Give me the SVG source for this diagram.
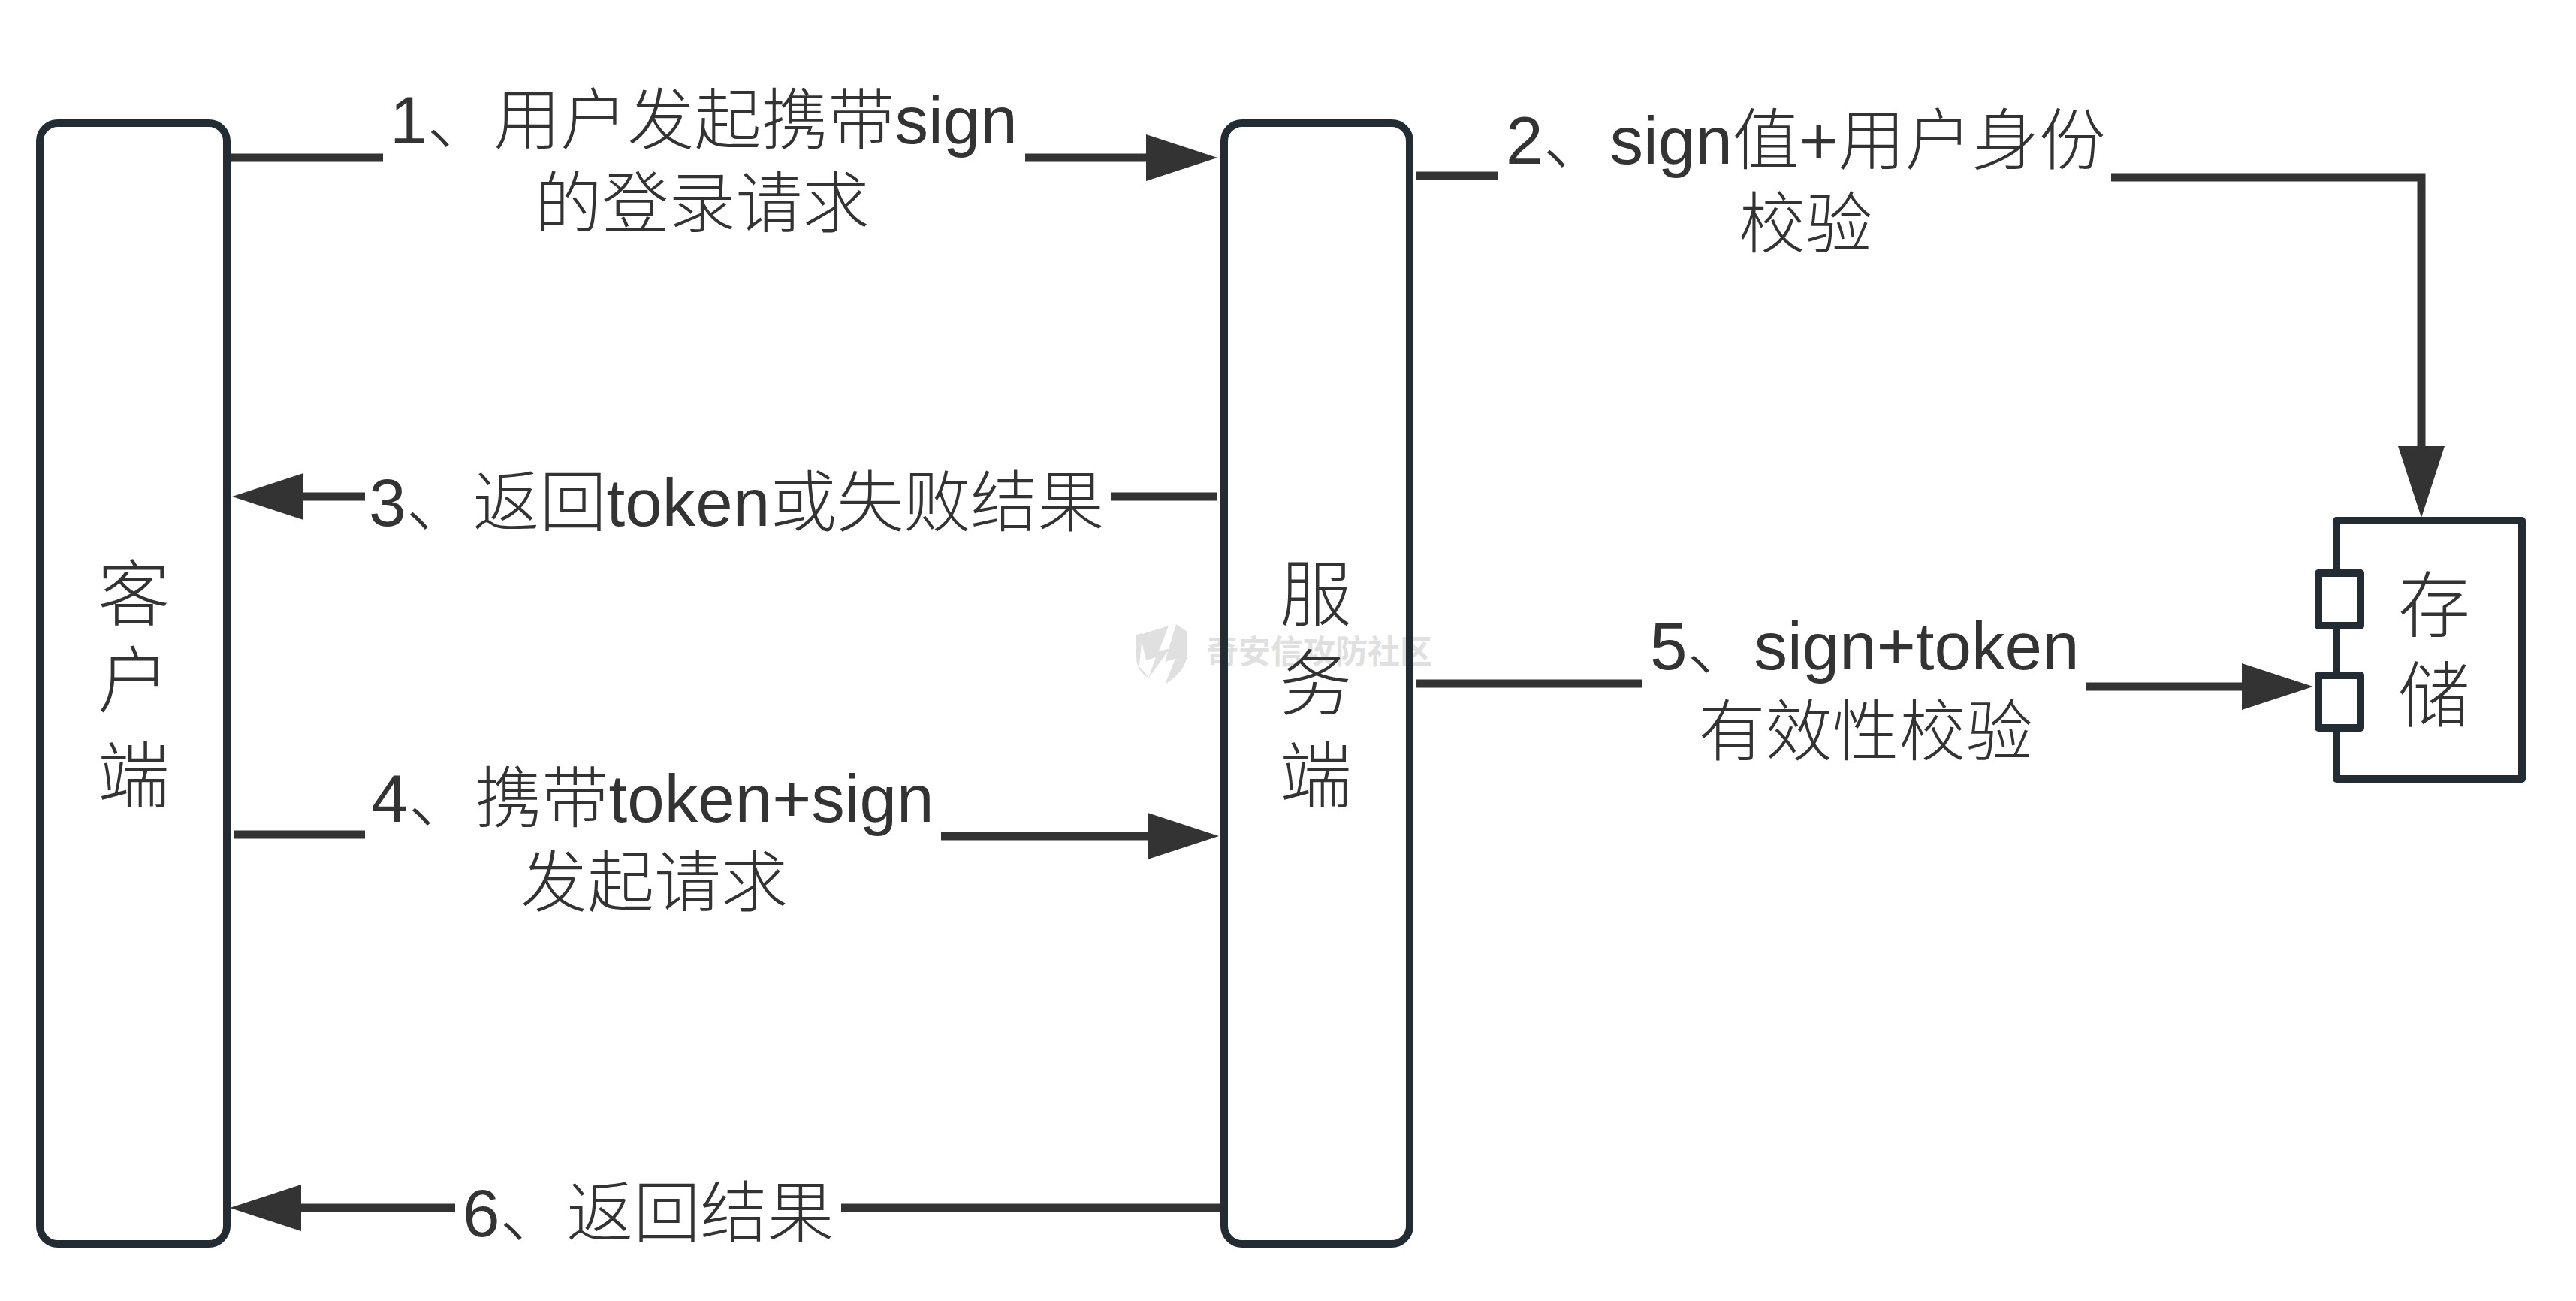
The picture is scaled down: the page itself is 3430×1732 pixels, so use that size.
<svg xmlns="http://www.w3.org/2000/svg" width="3430" height="1732" viewBox="0 0 3430 1732">
<style>
text{font-family:"Liberation Sans","Noto Sans CJK SC",sans-serif;font-size:89px;fill:#333;font-weight:300}
.m{text-anchor:middle}
.n{font-size:96px}
.box{fill:none;stroke:#232b33;stroke-width:10;stroke-linejoin:round}
.port{fill:#fff;stroke:#232b33;stroke-width:10;stroke-linejoin:round}
.c{fill:none;stroke:#333;stroke-width:11}
.wm{font-size:43px;fill:#e0e0e0;font-weight:700}
</style>
<defs>
<marker id="a" markerUnits="userSpaceOnUse" markerWidth="96" markerHeight="64" refX="65" refY="32" orient="auto"><path d="M0 1 L95 32 L0 63Z" fill="#333"/></marker>
</defs>
<rect width="3430" height="1732" fill="#fff"/>
<g id="watermark" transform="translate(-9,-5)">
<path d="M1527 850 L1565 838 L1552 872 L1567 868 L1538 908 L1548 880 L1535 884 Z M1575 836 L1590 846 L1590 878 Q1586 900 1560 916 L1574 882 L1560 886 Z M1522 850 L1530 848 L1526 892 L1540 908 Q1522 900 1522 878 Z" fill="#e0e0e0"/>
<text class="wm" x="1615" y="888">奇安信攻防社区</text>
</g>
<g id="connectors">
<path class="c" d="M308 210H510M1365 210H1591" marker-end="url(#a)"/>
<path class="c" d="M1886 234H1995M2811 236H3224V659" marker-end="url(#a)"/>
<path class="c" d="M1621 661H1479M486 661H339" marker-end="url(#a)"/>
<path class="c" d="M311 1111H486M1253 1113H1593" marker-end="url(#a)"/>
<path class="c" d="M1886 910H2187M2778 914H3050" marker-end="url(#a)"/>
<path class="c" d="M1625 1608H1120M606 1608H336" marker-end="url(#a)"/>
</g>
<g id="client"><rect class="box" x="53" y="164" width="249" height="1492" rx="24"/>
<text class="m n" x="178" y="825">客</text><text class="m n" x="178" y="940">户</text><text class="m n" x="178" y="1067">端</text></g>
<g id="server"><rect class="box" x="1630" y="164" width="247" height="1492" rx="24"/>
<text class="m n" x="1752" y="825">服</text><text class="m n" x="1752" y="944">务</text><text class="m n" x="1752" y="1067">端</text></g>
<g id="storage"><rect class="box" x="3111" y="693" width="247" height="344"/>
<rect class="port" x="3087" y="763" width="56" height="70"/><rect class="port" x="3087" y="899" width="56" height="70"/>
<text class="m n" x="3241" y="840">存</text><text class="m n" x="3241" y="960">储</text></g>
<g id="labels">
<text x="519" y="191">1、用户发起携带sign</text><text class="m" x="935" y="302">的登录请求</text>
<text x="2005" y="218">2、sign值+用户身份</text><text class="m" x="2404" y="329">校验</text>
<text x="491" y="700">3、返回token或失败结果</text>
<text x="494" y="1094">4、携带token+sign</text><text class="m" x="871" y="1206">发起请求</text>
<text x="2197" y="891">5、sign+token</text><text class="m" x="2484" y="1005">有效性校验</text>
<text x="616" y="1646">6、返回结果</text>
</g>
</svg>
